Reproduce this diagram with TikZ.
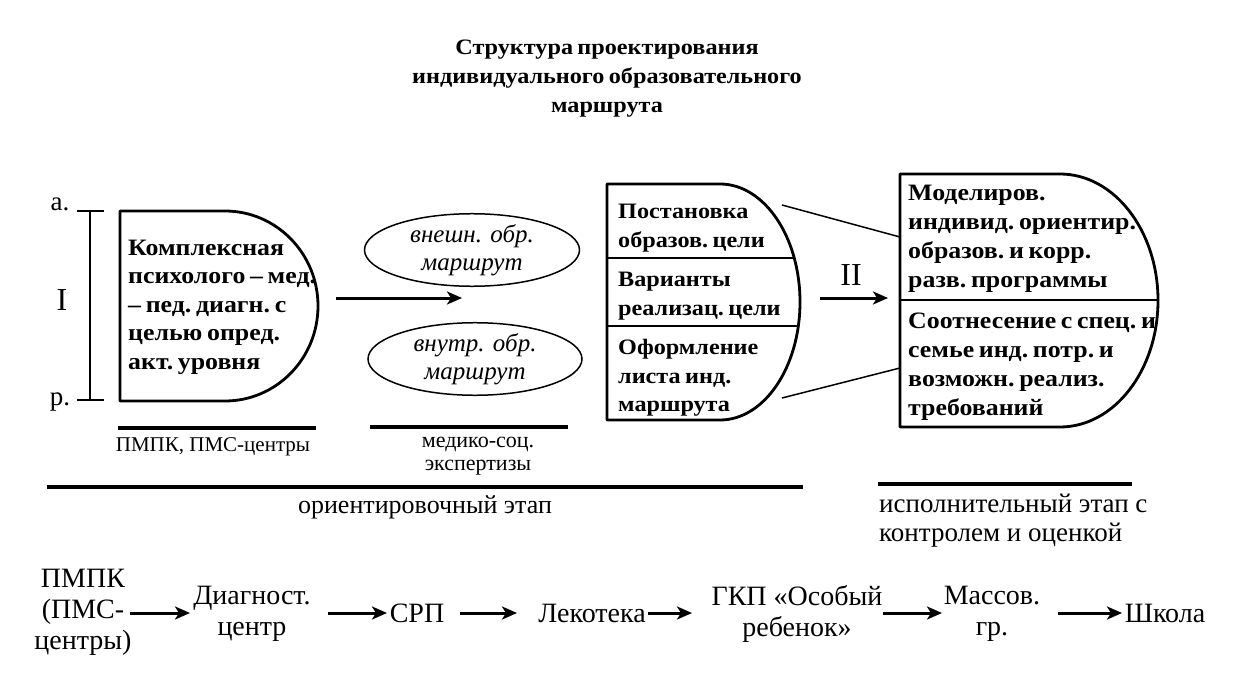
\documentclass[tikz,border=0pt]{standalone}
\usepackage{fontspec}
\setmainfont{Liberation Serif}
\newfontfamily\wf[FakeStretch=1.1]{Liberation Serif}
\usetikzlibrary{shapes.geometric,arrows.meta}
\newcommand\tightsp{\frenchspacing\spaceskip=0.2em plus 0.05em\relax}
\begin{document}
\begin{tikzpicture}[x=1pt,y=-1pt,
  bx/.style={font=\wf\bfseries\fontsize{23.5}{29}\selectfont\tightsp, align=left, inner sep=0, anchor=west},
  bxs/.style={bx, font=\wf\bfseries\fontsize{22}{28.5}\selectfont\tightsp},
  ttl/.style={font=\wf\bfseries\fontsize{22}{29}\selectfont\tightsp, align=center, inner sep=0},
  lab/.style={font=\fontsize{21}{24}\selectfont, align=center, inner sep=0},
  row/.style={font=\fontsize{28}{31}\selectfont, align=center, inner sep=0},
  shp/.style={draw, line width=2.8pt, line join=round},
  bar/.style={line width=4.5pt},
  ell/.style={draw, ellipse, line width=1.5pt, inner sep=0, font=\itshape\fontsize{25}{28}\selectfont, align=center},
  arr/.style={-{Stealth[length=15pt,width=13pt,inset=4pt]}, line width=3pt}
]
\useasboundingbox (0,0) rectangle (1237,695);

% title
\node[ttl] (title) at (607,79) {Структура проектирования\\индивидуального образовательного\\маршрута};

% bracket
\coordinate (bt) at (90,211); \coordinate (bb) at (90,400);
\draw[line width=2.5pt] (77,211) -- (104,211) (77,400) -- (104,400) (bt) -- (bb);
\node[font=\fontsize{27}{27}\selectfont, inner sep=0] (la) at (60,204) {а.};
\node[font=\fontsize{27}{27}\selectfont, inner sep=0] (lp) at (60,402) {р.};
\node[font=\fontsize{32}{32}\selectfont, inner sep=0] (lI) at (62,300) {I};

% box 1
\draw[shp] (120,211) -- (225,211) arc[start angle=-90,end angle=90,x radius=93,y radius=95] -- (120,401) -- cycle;
\node[bx, font=\wf\bfseries\fontsize{23.5}{28.5}\selectfont\tightsp] (b1) at (128,307) {Комплексная\\психолого – мед.\\– пед. диагн. с\\целью опред.\\акт. уровня};

% arrow 1
\coordinate (a1s) at (336,298); \coordinate (a1e) at (462,298);
\draw[arr] (a1s) -- (a1e);

% ellipses
\node[ell, minimum width=215pt, minimum height=56pt] (e1) at (472,250) {внешн. обр.\\маршрут};
\node[ell, minimum width=214pt, minimum height=60pt] (e2) at (475,359) {внутр. обр.\\маршрут};

% box 3
\begin{scope}
\clip (607,184) -- (720,184) arc[start angle=-90,end angle=90,x radius=80,y radius=118] -- (607,420) -- cycle;
\draw[line width=2.2pt] (600,258) -- (820,258) (600,326) -- (820,326);
\end{scope}
\draw[shp] (607,184) -- (720,184) arc[start angle=-90,end angle=90,x radius=80,y radius=118] -- (607,420) -- cycle;
\node[bxs] (b3a) at (618,228) {Постановка\\образов. цели};
\node[bxs] (b3b) at (618,296) {Варианты\\реализац. цели};
\node[bxs] (b3c) at (618,378) {Оформление\\листа инд.\\маршрута};

% arrow II
\coordinate (a2s) at (820,298); \coordinate (a2e) at (888,298);
\draw[arr] (a2s) -- (a2e);
\node[font=\fontsize{32}{32}\selectfont, inner sep=0] (lII) at (851,275) {II};

% box 4
\begin{scope}
\clip (900,174) -- (1060,174) arc[start angle=-90,end angle=90,x radius=98,y radius=126.5] -- (900,427) -- cycle;
\draw[line width=2pt] (890,300) -- (1200,300);
\end{scope}
\draw[shp] (900,174) -- (1060,174) arc[start angle=-90,end angle=90,x radius=98,y radius=126.5] -- (900,427) -- cycle;
\node[bx] (b4a) at (908,239) {Моделиров.\\индивид. ориентир.\\образов. и корр.\\разв. программы};
\node[bx] (b4b) at (908,367) {Соотнесение с спец. и\\семье инд. потр. и\\возможн. реализ.\\требований};

% links box3 -> box4
\coordinate (l1s) at (782,205); \coordinate (l1e) at (900,237);
\coordinate (l2s) at (782,398); \coordinate (l2e) at (900,368);
\draw[line width=1.5pt] (l1s) -- (l1e) (l2s) -- (l2e);

% bars and labels
\draw[bar] (118,428) -- (316,428);
\node[lab] (n1) at (213,447) {ПМПК, ПМС-центры};
\draw[bar] (370,427) -- (568,427);
\node[lab, font=\fontsize{22}{23}\selectfont] (n2) at (478,456) {медико-соц.\\экспертизы};
\draw[bar] (47,487) -- (803,487);
\node[lab, font=\fontsize{26}{26}\selectfont] (n3) at (425,507) {ориентировочный этап};
\draw[bar] (878,484) -- (1132,484);
\node[lab, align=left, anchor=west, font=\fontsize{27}{29}\selectfont] (n4) at (879,521) {исполнительный этап с\\контролем и оценкой};

% bottom row
\node[row] (r1) at (83,612) {ПМПК\\(ПМС-\\центры)};
\node[row] (r2) at (252,614) {Диагност.\\центр};
\node[row] (r3) at (417,613) {СРП};
\node[row] (r4) at (592,613) {Лекотека};
\node[row] (r5) at (797,614) {ГКП «Особый\\ребенок»};
\node[row] (r6) at (992,614) {Массов.\\гр.};
\node[row] (r7) at (1165,613) {Школа};
\coordinate (p1s) at (130,613); \coordinate (p1e) at (190,613);
\coordinate (p2s) at (328,613); \coordinate (p2e) at (387,613);
\coordinate (p3s) at (460,613); \coordinate (p3e) at (517,613);
\coordinate (p4s) at (648,613); \coordinate (p4e) at (692,613);
\coordinate (p5s) at (883,613); \coordinate (p5e) at (942,613);
\coordinate (p6s) at (1058,613); \coordinate (p6e) at (1122,613);
\foreach \i in {1,...,6} \draw[arr] (p\i s) -- (p\i e);
\end{tikzpicture}
\end{document}
